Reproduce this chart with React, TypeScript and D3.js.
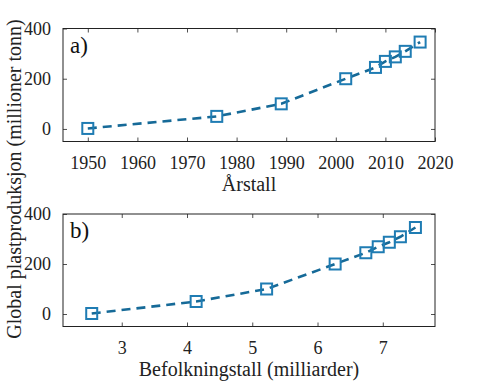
import { useEffect, useRef } from "react";
import * as d3 from "d3";

const years = [1950, 1976, 1989, 2002, 2008, 2010, 2012, 2014, 2017];
const population = [2.54, 4.14, 5.22, 6.27, 6.74, 6.93, 7.1, 7.27, 7.5];
const production = [2, 50, 100, 200, 245, 269, 287, 309, 346];

const yearTicks = [1950, 1960, 1970, 1980, 1990, 2000, 2010, 2020];
const popTicks = [3, 4, 5, 6, 7];
const prodTicks = [0, 200, 400];

const WIDTH = 482;
const HEIGHT = 390;
const LEFT = 63;
const RIGHT = 435;
const FONT = "'Liberation Serif', 'Times New Roman', serif";
const LINE_COLOR = "#166a98";
const MARKER_COLOR = "#1f7cb3";
const TEXT_COLOR = "#222";

type Panel = {
  top: number;
  bottom: number;
  xs: number[];
  xDomain: [number, number];
  xTicks: number[];
  tag: string;
  xLabel: string;
};

const panels: Panel[] = [
  { top: 28.5, bottom: 141.5, xs: years, xDomain: [1945, 2020], xTicks: yearTicks, tag: "a)", xLabel: "Årstall" },
  { top: 214, bottom: 326.5, xs: population, xDomain: [2.1, 7.8], xTicks: popTicks, tag: "b)", xLabel: "Befolkningstall (milliarder)" },
];

export default function App() {
  const ref = useRef<SVGSVGElement>(null);

  useEffect(() => {
    const svg = d3.select(ref.current);
    svg.selectAll("*").remove();

    svg.append("rect").attr("width", WIDTH).attr("height", HEIGHT).attr("fill", "#fff");

    panels.forEach((p) => {
      const x = d3.scaleLinear().domain(p.xDomain).range([LEFT, RIGHT]);
      const y = d3.scaleLinear().domain([-50, 400]).range([p.bottom, p.top]);
      const g = svg.append("g");

      // ticks point inward on all four sides, like a boxed matlab axes
      const bottomAxis = g
        .append("g")
        .attr("transform", `translate(0,${p.bottom})`)
        .call(d3.axisBottom(x).tickValues(p.xTicks).tickSizeInner(-4).tickSizeOuter(0).tickPadding(15).tickFormat(d3.format("d")));
      const topAxis = g
        .append("g")
        .attr("transform", `translate(0,${p.top})`)
        .call(d3.axisTop(x).tickValues(p.xTicks).tickSizeInner(-4).tickSizeOuter(0).tickFormat(() => ""));
      const leftAxis = g
        .append("g")
        .attr("transform", `translate(${LEFT},0)`)
        .call(d3.axisLeft(y).tickValues(prodTicks).tickSizeInner(-4).tickSizeOuter(0).tickPadding(12));
      const rightAxis = g
        .append("g")
        .attr("transform", `translate(${RIGHT},0)`)
        .call(d3.axisRight(y).tickValues(prodTicks).tickSizeInner(-4).tickSizeOuter(0).tickFormat(() => ""));

      [bottomAxis, topAxis, leftAxis, rightAxis].forEach((a) => {
        a.select(".domain").remove();
        a.selectAll(".tick line").attr("stroke", "#222").attr("stroke-width", 0.8);
        a.selectAll("text").attr("font-family", FONT).attr("font-size", 18).attr("fill", TEXT_COLOR);
      });

      g.append("rect")
        .attr("x", LEFT)
        .attr("y", p.top)
        .attr("width", RIGHT - LEFT)
        .attr("height", p.bottom - p.top)
        .attr("fill", "none")
        .attr("stroke", "#222")
        .attr("stroke-width", 1);

      const pts = p.xs.map((v, i) => [x(v), y(production[i])] as [number, number]);

      g.append("path")
        .attr("d", d3.line()(pts))
        .attr("fill", "none")
        .attr("stroke", LINE_COLOR)
        .attr("stroke-width", 2.6)
        .attr("stroke-dasharray", "9,6");

      g.selectAll(".m")
        .data(pts)
        .enter()
        .append("rect")
        .attr("x", (d) => d[0] - 5.5)
        .attr("y", (d) => d[1] - 5.5)
        .attr("width", 11)
        .attr("height", 11)
        .attr("fill", "none")
        .attr("stroke", MARKER_COLOR)
        .attr("stroke-width", 2);

      g.append("text")
        .attr("x", LEFT + 7)
        .attr("y", p.top + 24)
        .attr("font-family", FONT)
        .attr("font-size", 23)
        .attr("fill", "#111")
        .text(p.tag);

      g.append("text")
        .attr("x", (LEFT + RIGHT) / 2)
        .attr("y", p.bottom + 49)
        .attr("text-anchor", "middle")
        .attr("font-family", FONT)
        .attr("font-size", 20)
        .attr("fill", TEXT_COLOR)
        .text(p.xLabel);
    });

    svg
      .append("text")
      .attr("transform", "translate(21,179) rotate(-90)")
      .attr("text-anchor", "middle")
      .attr("font-family", FONT)
      .attr("font-size", 20)
      .attr("fill", TEXT_COLOR)
      .text("Global plastproduksjon (millioner tonn)");
  }, []);

  return (
    <svg
      ref={ref}
      width={WIDTH}
      height={HEIGHT}
      style={{ position: "absolute", left: 0, top: 0 }}
    />
  );
}
